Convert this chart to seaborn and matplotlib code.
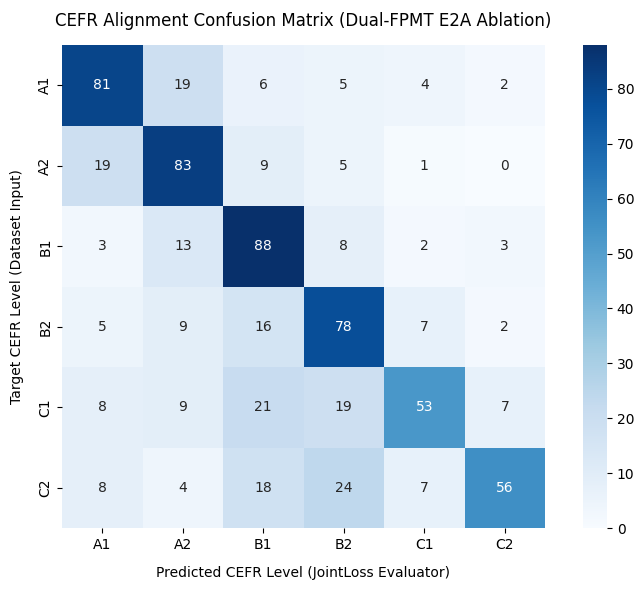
import numpy as np
import pandas as pd
import matplotlib
matplotlib.use("Agg")
import matplotlib.pyplot as plt
import seaborn as sns

levels = ["A1", "A2", "B1", "B2", "C1", "C2"]

row_a1 = [81, 19, 6, 5, 4, 2]
row_a2 = [19, 83, 9, 5, 1, 0]
row_b1 = [3, 13, 88, 8, 2, 3]
row_b2 = [5, 9, 16, 78, 7, 2]
row_c1 = [8, 9, 21, 19, 53, 7]
row_c2 = [8, 4, 18, 24, 7, 56]


def main():
    matrix = pd.DataFrame(
        [row_a1, row_a2, row_b1, row_b2, row_c1, row_c2],
        index=levels,
        columns=levels,
    )

    fig = plt.figure(figsize=(6.44, 5.9), dpi=100)
    ax = fig.add_axes([62 / 644, 1 - 528 / 590, 483 / 644, 483 / 590])
    cax = fig.add_axes([583 / 644, 1 - 528 / 590, 24 / 644, 483 / 590])
    sns.heatmap(matrix, annot=True, fmt="d", cmap="Blues", ax=ax, cbar_ax=cax)
    ax.set_title("CEFR Alignment Confusion Matrix (Dual-FPMT E2A Ablation)", pad=14)
    ax.set_xlabel("Predicted CEFR Level (JointLoss Evaluator)", labelpad=10)
    ax.set_ylabel("Target CEFR Level (Dataset Input)", labelpad=10)
    plt.savefig("out.png")
    plt.close()


if __name__ == "__main__":
    main()
